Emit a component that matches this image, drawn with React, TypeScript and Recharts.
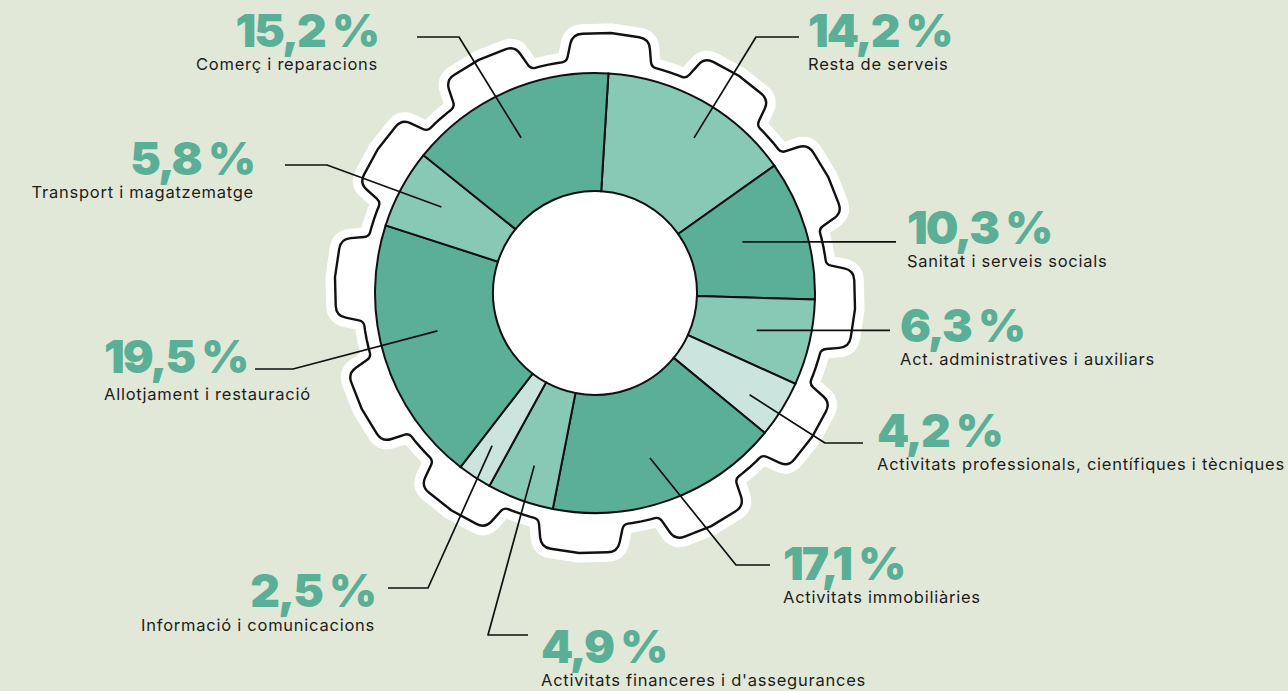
import React from 'react';
import { PieChart, Pie, Cell, Customized } from 'recharts';

// ---- data ----
const categories = [
  'Resta de serveis',
  'Sanitat i serveis socials',
  'Act. administratives i auxiliars',
  'Activitats professionals, científiques i tècniques',
  'Activitats immobiliàries',
  "Activitats financeres i d'assegurances",
  'Informació i comunicacions',
  'Allotjament i restauració',
  'Transport i magatzematge',
  'Comerç i reparacions',
];
const shares = [14.2, 10.3, 6.3, 4.2, 17.1, 4.9, 2.5, 19.5, 5.8, 15.2];

// ---- styles / layout ----
const W = 1288;
const H = 691;
const CX = 595;
const CY = 293;
const BG = '#E2E8D8';
const GREEN = '#5AAF96';
const DARK = '#5AAF96';
const MID = '#88C9B6';
const LIGHT = '#CBE5DE';
const sliceColors = [MID, DARK, MID, LIGHT, DARK, MID, LIGHT, DARK, MID, DARK];
const START = 86.5;

type LL = {
  r: number; da: number; elbow: [number, number] | null; end: [number, number];
  x: number; y: number; anchor: 'start' | 'end'; gap?: number;
};
const labelLayout: LL[] = [
  { r: 184, da: -3.5, elbow: [756, 37], end: [799, 37], x: 808, y: 47, anchor: 'start' },
  { r: 156, da: 2.3, elbow: null, end: [896, 243], x: 907, y: 244, anchor: 'start' },
  { r: 166, da: 0, elbow: null, end: [890, 331], x: 900, y: 342, anchor: 'start' },
  { r: 185, da: -1.4, elbow: [825, 443], end: [863, 443], x: 877, y: 447, anchor: 'start' },
  { r: 174, da: -1.3, elbow: [736, 565], end: [770, 565], x: 783, y: 580, anchor: 'start' },
  { r: 183, da: 0.5, elbow: [488, 635], end: [528, 635], x: 541, y: 663, anchor: 'start' },
  { r: 184, da: -0.8, elbow: [428, 588], end: [388, 588], x: 375, y: 607, anchor: 'end', gap: 24 },
  { r: 162, da: -3.7, elbow: [293, 369], end: [255, 369], x: 104, y: 373, anchor: 'start', gap: 27 },
  { r: 176, da: -0.9, elbow: [327, 165], end: [285, 165], x: 254, y: 175, anchor: 'end' },
  { r: 172, da: 1.6, elbow: [459, 37], end: [417, 37], x: 378, y: 47, anchor: 'end' },
];

const data = categories.map((name, i) => ({ name, value: shares[i] }));

const RAD = Math.PI / 180;
const fmt = (v: number) => v.toFixed(1).replace('.', ',') + '\u00A0%';

function gearPath(cx: number, cy: number) {
  const Rb = 233, Rt = 260, teeth = 12, step = 360 / teeth;
  const P = (ang: number, r: number, rad: number) => ({
    x: cx + r * Math.cos(ang * RAD),
    y: cy - r * Math.sin(ang * RAD),
    rad,
  });
  const pts: { x: number; y: number; rad: number }[] = [];
  for (let i = 0; i < teeth; i++) {
    const t = START - step * i;
    pts.push(P(t + 10.5, Rb, 5));
    pts.push(P(t + 8.5, Rt, 10));
    pts.push(P(t, Rt + 0.5, 0));
    pts.push(P(t - 8.5, Rt, 10));
    pts.push(P(t - 10.5, Rb, 5));
    for (let k = 1; k <= 3; k++) pts.push(P(t - 10.5 - (k * (step - 21)) / 4, Rb, 0));
  }
  const toward = (p: any, q: any, r: number) => {
    const dx = q.x - p.x, dy = q.y - p.y;
    const len = Math.hypot(dx, dy);
    const f = Math.min(r / len, 0.5);
    return { x: p.x + dx * f, y: p.y + dy * f };
  };
  let d = '';
  const n = pts.length;
  for (let i = 0; i < n; i++) {
    const p = pts[i], prev = pts[(i - 1 + n) % n], next = pts[(i + 1) % n];
    const cmd = i === 0 ? 'M' : 'L';
    if (p.rad > 0) {
      const a = toward(p, prev, p.rad), b = toward(p, next, p.rad);
      d += `${cmd}${a.x.toFixed(2)} ${a.y.toFixed(2)} Q${p.x.toFixed(2)} ${p.y.toFixed(2)} ${b.x.toFixed(2)} ${b.y.toFixed(2)} `;
    } else {
      d += `${cmd}${p.x.toFixed(2)} ${p.y.toFixed(2)} `;
    }
  }
  return d + 'Z';
}

const Gear = () => {
  const d = gearPath(CX, CY);
  return (
    <g>
      <path d={d} fill="#fff" stroke="#fff" strokeWidth={19} strokeLinejoin="round" />
      <path d={d} fill="#fff" stroke="#111" strokeWidth={2.4} strokeLinejoin="round" />
    </g>
  );
};

const renderLabel = (props: any) => {
  const { cx, cy, midAngle, index, value } = props;
  const L = labelLayout[index];
  const ang = (midAngle + L.da) * RAD;
  const sx = cx + L.r * Math.cos(ang);
  const sy = cy - L.r * Math.sin(ang);
  const pts: [number, number][] = L.elbow
    ? [[sx, sy], L.elbow, L.end]
    : [[sx, sy], [L.end[0], sy]];
  const gap = L.gap ?? 23;
  return (
    <g key={`lbl-${index}`}>
      <polyline
        points={pts.map((p) => p.join(',')).join(' ')}
        fill="none"
        stroke="#111"
        strokeWidth={1.7}
        strokeLinejoin="round"
      />
      <text
        x={L.x}
        y={L.y}
        textAnchor={L.anchor}
        fontFamily="Inter, 'Open Sans', sans-serif"
        fontWeight={900}
        fontSize={46}
        letterSpacing={-2}
        fill={GREEN}
      >
        {fmt(value)}
      </text>
      <text
        x={L.x}
        y={L.y + gap}
        textAnchor={L.anchor}
        fontFamily="Inter, 'Open Sans', sans-serif"
        fontWeight={400}
        fontSize={16.5}
        letterSpacing={0.75}
        fill="#1d1d1b"
      >
        {categories[index]}
      </text>
    </g>
  );
};

export default function App() {
  return (
    <div style={{ position: 'absolute', left: 0, top: 0, width: W, height: H, background: BG, overflow: 'hidden' }}>
      <PieChart width={W} height={H} margin={{ top: 0, right: 0, bottom: 0, left: 0 }}>
        <Customized component={Gear} />
        <Pie
          data={data}
          dataKey="value"
          nameKey="name"
          cx={CX}
          cy={CY}
          innerRadius={102}
          outerRadius={220}
          startAngle={START}
          endAngle={START - 360}
          stroke="#111"
          strokeWidth={2}
          isAnimationActive={false}
          labelLine={false}
          label={renderLabel}
        >
          {data.map((_, i) => (
            <Cell key={i} fill={sliceColors[i]} />
          ))}
        </Pie>
      </PieChart>
    </div>
  );
}
